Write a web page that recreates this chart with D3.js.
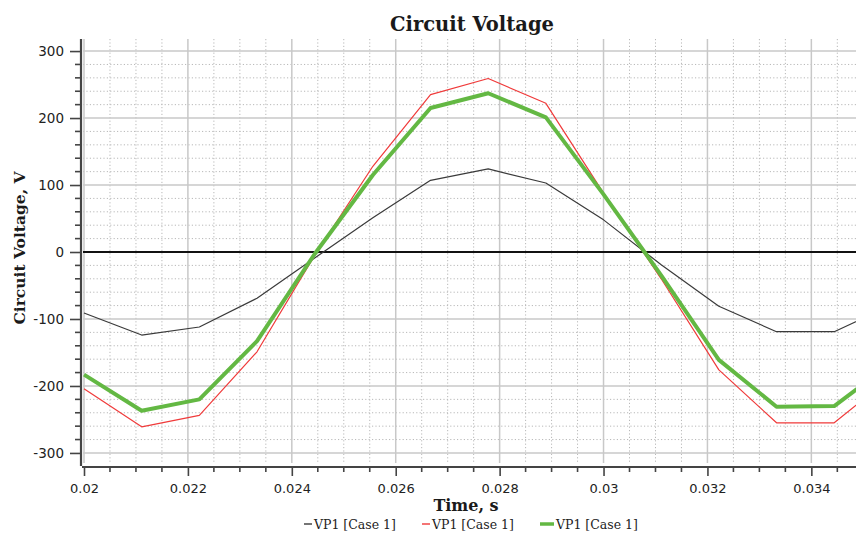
<!DOCTYPE html>
<html>
<head>
<meta charset="utf-8">
<script src="https://cdn.jsdelivr.net/npm/d3@7"></script>
<style>
  body { margin: 0; background: #fff; }
  svg { display: block; }
</style>
</head>
<body>
<div id="chart"></div>
<script>
// Sample times (s) and the three voltage traces (V)
var times = [0.02, 0.02111, 0.02222, 0.02333, 0.02444, 0.02556, 0.02667, 0.02778,
             0.02889, 0.03, 0.03111, 0.03222, 0.03333, 0.03444, 0.03556];
var vBlack = [-91, -124, -112, -69, -9, 51, 107, 124, 103, 48, -19, -81, -119, -119, -79];
var vRed   = [-204, -261, -244, -149, -5, 128, 235, 259, 222, 88, -40, -176, -255, -255, -185];
var vGreen = [-183, -237, -220, -133, -3, 115, 215, 237, 201, 86, -35, -161, -231, -230, -165];

var xTicks = [0.02, 0.022, 0.024, 0.026, 0.028, 0.03, 0.032, 0.034];
var yTicks = [-300, -200, -100, 0, 100, 200, 300];
var legendLabels = ["VP1 [Case 1]", "VP1 [Case 1]", "VP1 [Case 1]"];

var width = 856, height = 536;
// plot box (named to avoid clashing with window.top)
var plotL = 83, plotT = 39, plotB = 463, plotR = 856;

var svg = d3.select("#chart").append("svg")
    .attr("width", width)
    .attr("height", height);

var x = d3.scaleLinear().domain([0.02, 0.035]).range([84, 863.3]);
var y = d3.scaleLinear().domain([-315, 318]).range([plotB, plotT]);

svg.append("clipPath").attr("id", "plot")
  .append("rect").attr("x", plotL).attr("y", plotT)
  .attr("width", plotR - plotL).attr("height", plotB - plotT);

var grid = svg.append("g").attr("clip-path", "url(#plot)");

// minor grid (dotted)
var xMinor = d3.range(0.0205, 0.0351, 0.0005).filter(function(t) {
    return Math.abs(Math.round(t / 0.002) * 0.002 - t) > 1e-7;
});
var yMinor = d3.range(-300, 320, 20).filter(function(v) { return v % 100 !== 0; });

grid.selectAll(".vminor").data(xMinor).enter().append("line")
    .attr("x1", d => x(d)).attr("x2", d => x(d))
    .attr("y1", plotT).attr("y2", plotB)
    .attr("stroke", "#b8b8b8").attr("stroke-width", 1)
    .attr("stroke-dasharray", "1.2,2.2");
grid.selectAll(".hminor").data(yMinor).enter().append("line")
    .attr("x1", plotL).attr("x2", plotR)
    .attr("y1", d => y(d)).attr("y2", d => y(d))
    .attr("stroke", "#b8b8b8").attr("stroke-width", 1)
    .attr("stroke-dasharray", "1.2,2.2");

// major grid (solid)
grid.selectAll(".vmajor").data(xTicks).enter().append("line")
    .attr("x1", d => x(d)).attr("x2", d => x(d))
    .attr("y1", plotT).attr("y2", plotB)
    .attr("stroke", "#c8c8c8").attr("stroke-width", 1.5);
grid.selectAll(".hmajor").data(yTicks.filter(d => d !== 0)).enter().append("line")
    .attr("x1", plotL).attr("x2", plotR)
    .attr("y1", d => y(d)).attr("y2", d => y(d))
    .attr("stroke", "#c8c8c8").attr("stroke-width", 1.5);

// zero line
grid.append("line")
    .attr("x1", plotL).attr("x2", plotR)
    .attr("y1", y(0)).attr("y2", y(0))
    .attr("stroke", "#111").attr("stroke-width", 2);

// series
var line = d3.line().x((d, i) => x(times[i])).y(d => y(d));
var series = [
    { values: vBlack, color: "#3a3a3a", w: 1.2 },
    { values: vRed,   color: "#f03a3a", w: 1.2 },
    { values: vGreen, color: "#63b843", w: 4 }
];
grid.selectAll(".series").data(series).enter().append("path")
    .attr("d", d => line(d.values))
    .attr("fill", "none")
    .attr("stroke", d => d.color)
    .attr("stroke-width", d => d.w)
    .attr("stroke-linejoin", "round");

// y axis
var yAxis = svg.append("g").attr("transform", "translate(81,0)");
yAxis.call(d3.axisLeft(y).tickValues(yTicks).tickSize(11).tickPadding(6).tickFormat(d => String(d)));
yAxis.selectAll(".tick line").attr("stroke", "#444").attr("stroke-width", 1.6);
yAxis.selectAll(".tick text").attr("font-family", "DejaVu Sans").attr("font-size", 13.5).attr("fill", "#222");
yAxis.select(".domain").remove();
yAxis.selectAll(".yminor").data(yMinor).enter().append("line")
    .attr("x1", -6).attr("x2", 0)
    .attr("y1", d => y(d)).attr("y2", d => y(d))
    .attr("stroke", "#444").attr("stroke-width", 1.6);
yAxis.append("line").attr("x1", 0).attr("x2", 0).attr("y1", plotT).attr("y2", 466)
    .attr("stroke", "#444").attr("stroke-width", 2.2);

// x axis
var xAxis = svg.append("g").attr("transform", "translate(0,467)");
xAxis.call(d3.axisBottom(x).tickValues(xTicks).tickSize(9).tickPadding(8).tickFormat(d => String(+d.toFixed(3))));
xAxis.selectAll(".tick line").attr("stroke", "#444").attr("stroke-width", 1.6);
xAxis.selectAll(".tick text").attr("font-family", "DejaVu Sans").attr("font-size", 13).attr("fill", "#222");
xAxis.select(".domain").remove();
xAxis.selectAll(".xminor").data(xMinor).enter().append("line")
    .attr("x1", d => x(d)).attr("x2", d => x(d))
    .attr("y1", 0).attr("y2", 5)
    .attr("stroke", "#444").attr("stroke-width", 1.6);
xAxis.append("line").attr("x1", 82).attr("x2", width).attr("y1", 0).attr("y2", 0)
    .attr("stroke", "#444").attr("stroke-width", 2.2);

// titles
svg.append("text")
    .attr("x", 472).attr("y", 31)
    .attr("text-anchor", "middle")
    .attr("font-family", "DejaVu Serif").attr("font-weight", "bold")
    .attr("font-size", 19.5).attr("fill", "#1a1a1a")
    .text("Circuit Voltage");

svg.append("text")
    .attr("transform", "translate(25,248) rotate(-90)")
    .attr("text-anchor", "middle")
    .attr("font-family", "DejaVu Serif").attr("font-weight", "bold")
    .attr("font-size", 15.5).attr("fill", "#1a1a1a")
    .text("Circuit Voltage, V");

svg.append("text")
    .attr("x", 466).attr("y", 511)
    .attr("text-anchor", "middle")
    .attr("font-family", "DejaVu Serif").attr("font-weight", "bold")
    .attr("font-size", 16).attr("fill", "#1a1a1a")
    .text("Time, s");

// legend
var legendX = [304, 422, 540];
var legend = svg.selectAll(".legend").data(series).enter().append("g")
    .attr("transform", (d, i) => "translate(" + legendX[i] + ",524)");
legend.append("line")
    .attr("x1", 0).attr("x2", d => d.w > 2 ? 14 : 8)
    .attr("y1", 0).attr("y2", 0)
    .attr("stroke", d => d.color)
    .attr("stroke-width", d => d.w > 2 ? 3.5 : 1.4);
legend.append("text")
    .attr("x", d => d.w > 2 ? 16 : 10).attr("y", 4.5)
    .attr("font-family", "DejaVu Serif").attr("font-size", 12.5).attr("fill", "#222")
    .text((d, i) => legendLabels[i]);
</script>
</body>
</html>
